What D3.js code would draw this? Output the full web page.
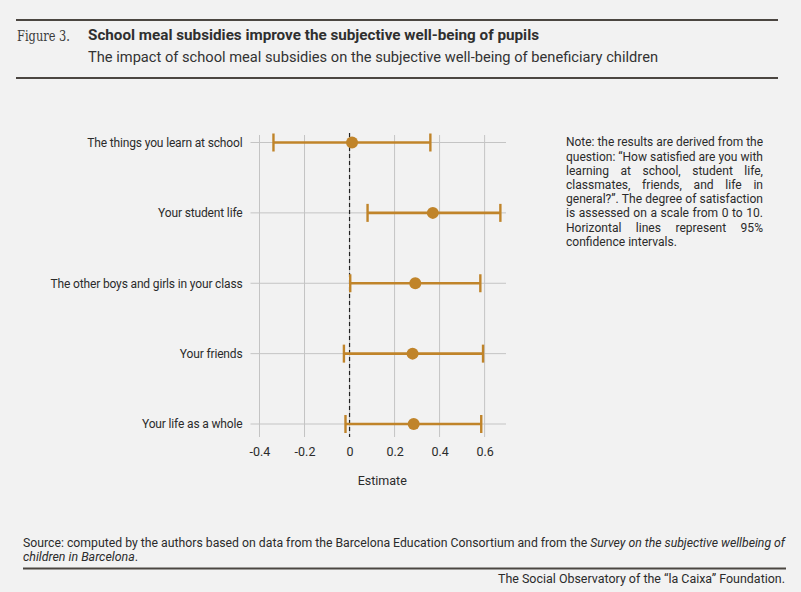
<!DOCTYPE html>
<html>
<head>
<meta charset="utf-8">
<script src="https://cdn.jsdelivr.net/npm/d3@7"></script>
<style>
  html, body { margin: 0; padding: 0; background: #f2f2f2; }
  svg { display: block; font-family: Roboto, "Noto Sans", sans-serif; }
</style>
</head>
<body>
<div id="chart"></div>
<script>
// Impact of school meal subsidies on subjective well-being

// data
let categories = ["The things you learn at school", "Your student life",
    "The other boys and girls in your class", "Your friends", "Your life as a whole"];
let estimates = [0.011, 0.37, 0.292, 0.28, 0.285];
let lower = [-0.338, 0.08, 0.003, -0.025, -0.018];
let upper = [0.359, 0.67, 0.581, 0.593, 0.585];
let xTicks = [-0.4, -0.2, 0, 0.2, 0.4, 0.6];

let noteLines = ["Note: the results are derived from the",
    "question: \u201cHow satisfied are you with",
    "learning at school, student life,",
    "classmates, friends, and life in",
    "general?\u201d. The degree of satisfaction",
    "is assessed on a scale from 0 to 10.",
    "Horizontal lines represent 95%",
    "confidence intervals."];

let rows = categories.map((c, i) => ({cat: c, est: estimates[i], lo: lower[i], hi: upper[i]}));

let width = 801, height = 592;
let barColor = "#c0842a";
let ruleColor = "#4b4641";
let textColor = "#2b2b2b";

let svg = d3.select("#chart").append("svg")
    .attr("width", width)
    .attr("height", height);

svg.append("rect").attr("width", width).attr("height", height).attr("fill", "#f2f2f2");

// header
svg.append("line").attr("x1", 16).attr("x2", 778).attr("y1", 20).attr("y2", 20)
    .attr("stroke", ruleColor).attr("stroke-width", 2);
svg.append("line").attr("x1", 16).attr("x2", 778).attr("y1", 78).attr("y2", 78)
    .attr("stroke", ruleColor).attr("stroke-width", 2);

svg.append("text")
    .text("Figure 3.")
    .attr("x", 17).attr("y", 41)
    .attr("font-family", "'DejaVu Serif', 'Liberation Serif', serif")
    .attr("font-size", 14)
    .attr("fill", "#3a3a3a")
    .attr("textLength", 53)
    .attr("lengthAdjust", "spacingAndGlyphs");

svg.append("text")
    .text("School meal subsidies improve the subjective well-being of pupils")
    .attr("x", 88).attr("y", 40)
    .attr("font-size", 15.5)
    .attr("font-weight", "bold")
    .attr("fill", "#2f2f2f")
    .attr("textLength", 451)
    .attr("lengthAdjust", "spacingAndGlyphs");

svg.append("text")
    .text("The impact of school meal subsidies on the subjective well-being of beneficiary children")
    .attr("x", 88).attr("y", 62)
    .attr("font-size", 14.5)
    .attr("fill", "#333")
    .attr("textLength", 570)
    .attr("lengthAdjust", "spacingAndGlyphs");

// plot area
let plot = {left: 250.5, right: 506, top: 135, bottom: 437};

let x = d3.scaleLinear()
    .domain([-0.44, 0.695])
    .range([plot.left, plot.right]);

let y = d3.scalePoint()
    .domain(categories)
    .range([142.5, 424]);

// gridlines
svg.append("g").selectAll("line").data(xTicks)
    .enter().append("line")
    .attr("x1", d => x(d)).attr("x2", d => x(d))
    .attr("y1", plot.top).attr("y2", plot.bottom)
    .attr("stroke", "#c4c4c4").attr("stroke-width", 1);

svg.append("g").selectAll("line").data(categories)
    .enter().append("line")
    .attr("x1", plot.left).attr("x2", plot.right)
    .attr("y1", d => y(d)).attr("y2", d => y(d))
    .attr("stroke", "#c4c4c4").attr("stroke-width", 1);

// axes
let xAxis = svg.append("g")
    .attr("transform", "translate(0," + (plot.bottom + 4) + ")")
    .call(d3.axisBottom(x).tickValues(xTicks).tickSize(0).tickPadding(6)
        .tickFormat(d => d === 0 ? "0" : d3.format(".1f")(d).replace("\u2212", "-")));
xAxis.select(".domain").remove();
xAxis.selectAll("text").attr("font-size", 12.5).attr("fill", textColor).attr("font-family", "Roboto, sans-serif");

let yAxis = svg.append("g")
    .attr("transform", "translate(" + (plot.left - 2) + ",0)")
    .call(d3.axisLeft(y).tickSize(0).tickPadding(6));
yAxis.select(".domain").remove();
yAxis.selectAll("text").attr("font-size", 12).attr("fill", textColor).attr("font-family", "Roboto, sans-serif")
    .attr("letter-spacing", -0.15);

svg.append("text")
    .text("Estimate")
    .attr("x", (plot.left + plot.right) / 2 + 4)
    .attr("y", 485)
    .attr("text-anchor", "middle")
    .attr("font-size", 12.5)
    .attr("fill", textColor);

// zero reference line
svg.append("line")
    .attr("x1", x(0)).attr("x2", x(0))
    .attr("y1", plot.top - 2).attr("y2", plot.bottom)
    .attr("stroke", "#222").attr("stroke-width", 1.2)
    .attr("stroke-dasharray", "4,3");

// confidence intervals
let bars = svg.append("g").selectAll(".ci").data(rows)
    .enter().append("g")
    .attr("class", "ci");

bars.append("line")
    .attr("x1", d => x(d.lo)).attr("x2", d => x(d.hi))
    .attr("y1", d => y(d.cat)).attr("y2", d => y(d.cat))
    .attr("stroke", barColor).attr("stroke-width", 2.6);

bars.append("line")
    .attr("x1", d => x(d.lo)).attr("x2", d => x(d.lo))
    .attr("y1", d => y(d.cat) - 9).attr("y2", d => y(d.cat) + 9)
    .attr("stroke", barColor).attr("stroke-width", 2.4);

bars.append("line")
    .attr("x1", d => x(d.hi)).attr("x2", d => x(d.hi))
    .attr("y1", d => y(d.cat) - 9).attr("y2", d => y(d.cat) + 9)
    .attr("stroke", barColor).attr("stroke-width", 2.4);

bars.append("circle")
    .attr("cx", d => x(d.est))
    .attr("cy", d => y(d.cat))
    .attr("r", 6)
    .attr("fill", barColor);

// note, justified by hand
let noteWidth = 197, lastWidth = 111;
let note = svg.append("g");
let noteText = note.selectAll("text").data(noteLines)
    .enter().append("text")
    .text(d => d)
    .attr("x", 0)
    .attr("y", (d, i) => 146.5 + i * 14.2)
    .attr("font-size", 12.8)
    .attr("fill", textColor);

// squeeze glyphs to the narrow face of the original
let lastNode = noteText.nodes()[noteLines.length - 1];
let k = lastWidth / lastNode.getComputedTextLength();
note.attr("transform", "translate(566,0) scale(" + k + ",1)");

noteText.each(function(d, i){
    if (i == noteLines.length - 1) return;
    let w = this.getComputedTextLength();
    let target = noteWidth / k;
    let gaps = d.split(" ").length - 1;
    if (w < target) {
        d3.select(this).attr("word-spacing", (target - w) / gaps);
    }
    else {
        d3.select(this).attr("textLength", target).attr("lengthAdjust", "spacingAndGlyphs");
    }
});

// source
let src1 = svg.append("text")
    .attr("x", 23).attr("y", 547)
    .attr("font-size", 12)
    .attr("fill", textColor)
    .attr("textLength", 762)
    .attr("lengthAdjust", "spacingAndGlyphs");
src1.append("tspan").text("Source: computed by the authors based on data from the Barcelona Education Consortium and from the ");
src1.append("tspan").attr("font-style", "italic").text("Survey on the subjective wellbeing of");

let src2 = svg.append("text")
    .attr("x", 23).attr("y", 560.5)
    .attr("font-size", 12)
    .attr("fill", textColor)
    .attr("textLength", 115)
    .attr("lengthAdjust", "spacingAndGlyphs");
src2.append("tspan").attr("font-style", "italic").text("children in Barcelona");
src2.append("tspan").text(".");

svg.append("line").attr("x1", 23).attr("x2", 786).attr("y1", 568.5).attr("y2", 568.5)
    .attr("stroke", ruleColor).attr("stroke-width", 2);

svg.append("text")
    .text("The Social Observatory of the \u201cla Caixa\u201d Foundation.")
    .attr("x", 785).attr("y", 582.5)
    .attr("text-anchor", "end")
    .attr("font-size", 12)
    .attr("fill", textColor)
    .attr("textLength", 287)
    .attr("lengthAdjust", "spacingAndGlyphs");
</script>
</body>
</html>
